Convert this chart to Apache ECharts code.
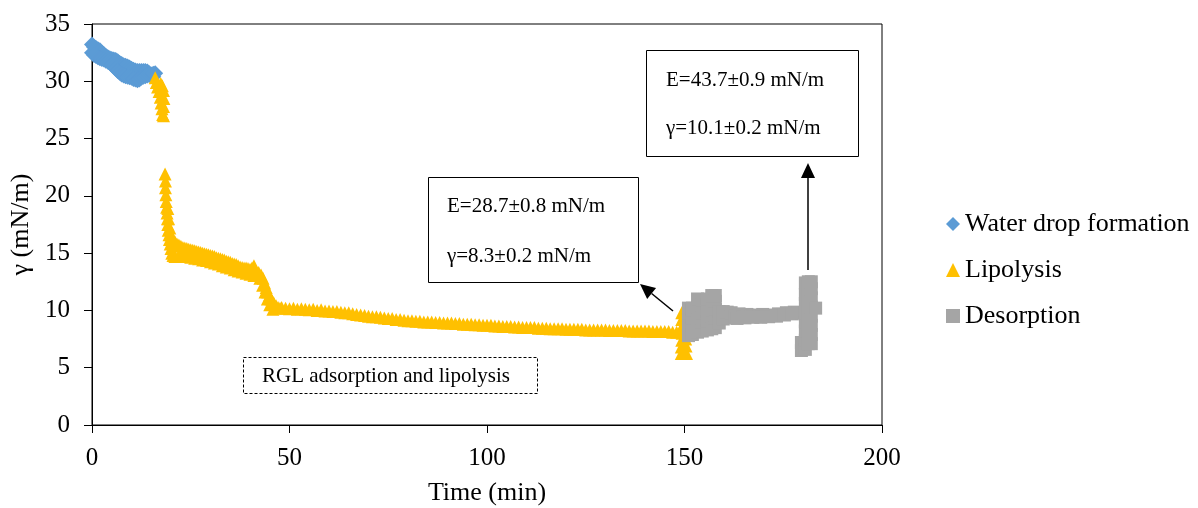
<!DOCTYPE html>
<html>
<head>
<meta charset="utf-8">
<script src="https://cdn.jsdelivr.net/npm/echarts@6/dist/echarts.min.js"></script>
<style>
  html, body { margin: 0; padding: 0; background: #fff; }
  #chart { width: 1198px; height: 508px; }
</style>
</head>
<body>
<div id="chart"></div>
<script>
// [time (min), surface tension (mN/m)]
// upper and lower edge of the band are both listed
var waterDrop = [
  [0, 33.2], [0.5, 33.0], [1, 32.9], [1.5, 32.8], [2, 32.7], [2.5, 32.5], [3, 32.35], [3.5, 32.2],
  [4, 32.1], [4.5, 32.0], [5, 31.95], [5.5, 31.9], [6, 31.85], [6.5, 31.75], [7, 31.6], [7.5, 31.5],
  [8, 31.4], [8.5, 31.35], [9, 31.3], [9.5, 31.2], [10, 31.1], [10.5, 31.0], [11, 30.95], [11.5, 30.9],
  [12, 30.9], [12.5, 30.9], [13, 30.9], [13.5, 30.9], [14, 30.85], [14.5, 30.7], [15, 30.5], [15.5, 30.4],
  [16, 30.7],
  [0, 32.5], [0.5, 32.3], [1, 32.2], [1.5, 32.1], [2, 32.0], [2.5, 31.95], [3, 31.9], [3.5, 31.8],
  [4, 31.7], [4.5, 31.6], [5, 31.45], [5.5, 31.3], [6, 31.1], [6.5, 30.9], [7, 30.75], [7.5, 30.6],
  [8, 30.5], [8.5, 30.45], [9, 30.4], [9.5, 30.35], [10, 30.3], [10.5, 30.2], [11, 30.15], [11.5, 30.1],
  [12, 30.15], [12.5, 30.3], [13, 30.4], [13.5, 30.45], [14, 30.5], [14.5, 30.55], [15, 30.6], [15.5, 30.65]
];

var lipolysis = [
  [16.0, 30.3], [16.3, 29.9], [16.6, 29.5], [17.0, 29.1], [17.3, 28.6], [17.5, 28.1], [17.7, 27.6],
  [17.9, 27.1], [18.1, 27.0], [18.1, 27.8], [18.2, 28.5], [18.1, 29.2], [17.8, 29.6], [17.4, 29.8],
  [18.5, 21.9], [18.6, 21.3], [18.6, 20.7], [18.7, 20.1], [18.8, 19.5], [18.9, 19.0], [19.0, 18.5],
  [19.1, 18.0], [19.2, 17.5], [19.3, 17.0], [19.5, 16.6], [19.6, 16.2], [19.8, 15.8], [20.0, 15.4],
  [20.2, 15.0], [19.2, 18.9], [19.4, 18.0], [19.7, 17.2], [20.0, 16.6], [20.3, 16.2],
  // upper edge 20-41 min
  [20.5, 16.2], [21, 16.0], [21.5, 15.8], [22, 15.7], [22.5, 15.6], [23, 15.5], [23.5, 15.45], [24, 15.4],
  [24.5, 15.35], [25, 15.3], [25.5, 15.25], [26, 15.2], [26.5, 15.15], [27, 15.1], [27.5, 15.05], [28, 15.0],
  [28.5, 14.95], [29, 14.9], [29.5, 14.85], [30, 14.8], [30.5, 14.75], [31, 14.7], [31.5, 14.6], [32, 14.55],
  [32.5, 14.5], [33, 14.45], [33.5, 14.4], [34, 14.3], [34.5, 14.25], [35, 14.2], [35.5, 14.1], [36, 14.05],
  [36.5, 14.0], [37, 13.9], [37.5, 13.8], [38, 13.75], [38.5, 13.7], [39, 13.7], [39.5, 13.65], [40, 13.6],
  [40.5, 13.7], [41, 13.9],
  // lower edge 20-41 min
  [20.5, 14.8], [21, 14.7], [22, 14.7], [23, 14.7], [24, 14.7], [25, 14.65], [26, 14.55], [27, 14.5],
  [28, 14.4], [29, 14.35], [30, 14.25], [31, 14.15], [32, 14.05], [33, 13.9], [34, 13.8], [35, 13.7],
  [36, 13.55], [37, 13.45], [38, 13.35], [39, 13.25], [40, 13.15], [41, 13.05],
  [41.5, 13.4], [42.2, 13.3], [42.8, 13.1], [43.3, 12.8], [43.7, 12.4], [44.1, 12.0], [44.5, 11.6], [44.9, 11.3],
  [45.3, 11.0], [45.7, 10.8], [46.1, 10.6], [46.6, 10.4], [47.1, 10.25], [47.6, 10.2],
  [42.5, 12.8], [43.2, 12.2], [43.8, 11.6], [44.4, 11.0], [45.0, 10.5], [45.8, 10.1],
  [48, 10.25], [49, 10.2], [50, 10.15], [51, 10.2], [52, 10.1], [53, 10.15], [54, 10.1], [55, 10.05],
  [56, 10.1], [57, 10.0], [58, 10.05], [59, 9.95], [60, 9.95], [61, 9.9], [62, 9.9], [63, 9.85],
  [64, 9.8], [65, 9.8], [66, 9.7], [67, 9.65], [68, 9.6], [69, 9.55], [70, 9.5], [71, 9.45],
  [72, 9.45], [73, 9.4], [74, 9.35], [75, 9.3], [76, 9.3], [77, 9.2], [78, 9.2], [79, 9.15],
  [80, 9.1], [81, 9.1], [82, 9.05], [83, 9.05], [84, 9.0], [85, 9.0], [86, 9.0], [87, 8.95],
  [88, 8.95], [89, 8.9], [90, 8.9], [91, 8.9], [92, 8.85], [93, 8.85], [94, 8.8], [95, 8.8],
  [96, 8.8], [97, 8.75], [98, 8.75], [99, 8.7], [100, 8.7], [101, 8.7], [102, 8.65], [103, 8.65],
  [104, 8.6], [105, 8.6], [106, 8.6], [107, 8.55], [108, 8.55], [109, 8.5], [110, 8.5], [111, 8.5],
  [112, 8.5], [113, 8.45], [114, 8.45], [115, 8.45], [116, 8.4], [117, 8.4], [118, 8.4], [119, 8.4],
  [120, 8.35], [121, 8.35], [122, 8.35], [123, 8.35], [124, 8.35], [125, 8.3], [126, 8.3], [127, 8.3],
  [128, 8.3], [129, 8.3], [130, 8.3], [131, 8.25], [132, 8.25], [133, 8.25], [134, 8.25], [135, 8.25],
  [136, 8.2], [137, 8.2], [138, 8.2], [139, 8.2], [140, 8.2], [141, 8.2], [142, 8.15], [143, 8.15],
  [144, 8.15], [145, 8.15], [146, 8.15], [147, 8.1], [148, 8.1],
  [149.3, 9.8], [149.3, 9.2], [149.4, 8.6], [149.4, 8.0], [149.3, 7.4], [149.2, 6.8], [149.2, 6.25],
  [150.5, 6.25], [150.4, 6.9], [150.3, 7.5]
];

var desorption = [
  [151.0, 7.8], [151.0, 8.5], [151.0, 9.2], [151.0, 9.8], [151.0, 10.2],
  [152.0, 7.9], [152.0, 8.6], [152.0, 9.3], [152.0, 10.0], [152.0, 10.2],
  [153.3, 8.1], [153.3, 8.8], [153.3, 9.6], [153.3, 10.3], [153.3, 11.0],
  [154.5, 8.2], [154.5, 9.0], [154.5, 9.8], [154.5, 10.5], [154.5, 10.9],
  [155.8, 8.3], [155.8, 9.1], [155.8, 9.9], [155.8, 10.6], [155.8, 11.0],
  [156.9, 8.4], [156.9, 9.2], [156.9, 10.0], [156.9, 10.7], [156.9, 11.3],
  [157.8, 8.5], [157.8, 9.3], [157.8, 10.1], [157.8, 10.8], [157.8, 11.3],
  [158.8, 8.9], [158.8, 9.9], [159.8, 9.25], [159.8, 9.9], [160.8, 9.35], [160.8, 9.85],
  [161.8, 9.4], [161.8, 9.8], [162.8, 9.5], [163.8, 9.7], [164.8, 9.45], [165.8, 9.65], [166.8, 9.5],
  [167.8, 9.6], [168.8, 9.5], [169.8, 9.65], [170.8, 9.5], [171.8, 9.6], [172.8, 9.55], [173.8, 9.7],
  [174.8, 9.65], [175.8, 9.8], [176.8, 9.75], [177.8, 9.85], [178.8, 9.8],
  [163.3, 9.3], [165.3, 9.35], [167.3, 9.4], [169.3, 9.4], [171.3, 9.45], [173.3, 9.5], [175.3, 9.6], [177.3, 9.7],
  [179.6, 6.5], [179.6, 7.2], [179.6, 9.8],
  [180.6, 6.6], [180.6, 7.4], [180.6, 8.2], [180.6, 9.0], [180.6, 9.8], [180.6, 10.6], [180.6, 11.4], [180.6, 12.4],
  [181.35, 7.1], [181.35, 7.9], [181.35, 8.7], [181.35, 9.5], [181.35, 10.3], [181.35, 11.1], [181.35, 11.9], [181.35, 12.5],
  [182.1, 7.1], [182.1, 7.9], [182.1, 8.7], [182.1, 9.5], [182.1, 10.3], [182.1, 11.1], [182.1, 11.9], [182.1, 12.5],
  [183.2, 10.2]
];

var seriesNames = ['Water drop formation', 'Lipolysis', 'Desorption'];
var seriesColors = ['#5B9BD5', '#FFC000', '#A5A5A5'];

var serif = '"Liberation Serif", "Times New Roman", serif';

function arrow(x1, y1, x2, y2) {
  var dx = x2 - x1, dy = y2 - y1;
  var len = Math.sqrt(dx * dx + dy * dy);
  var ux = dx / len, uy = dy / len;
  var hl = 15, hw = 7;
  var bx = x2 - ux * hl, by = y2 - uy * hl;
  return [{
    type: 'line',
    z: 100,
    shape: { x1: x1, y1: y1, x2: bx, y2: by },
    style: { stroke: '#000', lineWidth: 1.5 }
  }, {
    type: 'polygon',
    z: 100,
    shape: { points: [[x2, y2], [bx - uy * hw, by + ux * hw], [bx + uy * hw, by - ux * hw]] },
    style: { fill: '#000' }
  }];
}

function textBox(x, y, w, h, lines, dashed) {
  var els = [{
    type: 'rect',
    z: 100,
    shape: { x: x + 0.5, y: y + 0.5, width: w, height: h },
    style: { fill: '#fff', stroke: '#000', lineWidth: 1, lineDash: dashed ? [3, 2] : null }
  }];
  lines.forEach(function (l) {
    els.push({
      type: 'text',
      z: 101,
      x: l[1],
      y: l[2],
      style: { text: l[0], font: '21px ' + serif, fill: '#000', verticalAlign: 'middle' }
    });
  });
  return els;
}

var chart = echarts.init(document.getElementById('chart'));

var graphics = []
  .concat(textBox(428, 177, 210, 105, [['E=28.7\u00b10.8 mN/m', 447, 206], ['\u03b3=8.3\u00b10.2 mN/m', 447, 256]]))
  .concat(textBox(646, 50, 212, 106, [['E=43.7\u00b10.9 mN/m', 666, 80], ['\u03b3=10.1\u00b10.2 mN/m', 666, 128]]))
  .concat(textBox(243, 357, 294, 36, [['RGL adsorption and lipolysis', 262, 376]], true))
  .concat(arrow(673, 311, 640, 284))
  .concat(arrow(808, 270, 808, 163));

chart.setOption({
  animation: false,
  grid: {
    left: 92,
    right: 316,
    top: 24,
    bottom: 83,
    outerBoundsMode: 'none',
    containLabel: false,
    show: true,
    borderColor: '#000',
    borderWidth: 1
  },
  legend: {
    orient: 'vertical',
    left: 941,
    top: 206,
    itemGap: 20,
    itemWidth: 14,
    itemHeight: 14,
    textStyle: { fontFamily: serif, fontSize: 26, color: '#000', lineHeight: 25 },
    data: [
      { name: seriesNames[0], icon: 'diamond' },
      { name: seriesNames[1], icon: 'triangle' },
      { name: seriesNames[2], icon: 'rect' }
    ]
  },
  xAxis: {
    type: 'value',
    min: 0,
    max: 200,
    interval: 50,
    name: 'Time (min)',
    nameLocation: 'middle',
    nameGap: 55,
    nameTextStyle: { fontFamily: serif, fontSize: 26, color: '#000' },
    axisLine: { lineStyle: { color: '#000', width: 1 } },
    axisTick: { inside: false, length: 8, lineStyle: { color: '#000' } },
    axisLabel: { fontFamily: serif, fontSize: 25, color: '#000', margin: 21 },
    splitLine: { show: false }
  },
  yAxis: {
    type: 'value',
    min: 0,
    max: 35,
    interval: 5,
    name: '\u03b3 (mN/m)',
    nameLocation: 'middle',
    nameGap: 50,
    nameTextStyle: { fontFamily: serif, fontSize: 26, color: '#000' },
    axisLine: { show: true, lineStyle: { color: '#000', width: 1 } },
    axisTick: { show: true, inside: false, length: 8, lineStyle: { color: '#000' } },
    axisLabel: { fontFamily: serif, fontSize: 25, color: '#000', margin: 22 },
    splitLine: { show: false }
  },
  series: [{
    name: seriesNames[0],
    type: 'scatter',
    symbol: 'diamond',
    symbolSize: 16,
    itemStyle: { color: seriesColors[0], opacity: 1 },
    data: waterDrop
  }, {
    name: seriesNames[1],
    type: 'scatter',
    symbol: 'triangle',
    symbolSize: 13,
    itemStyle: { color: seriesColors[1], opacity: 1 },
    data: lipolysis
  }, {
    name: seriesNames[2],
    type: 'scatter',
    symbol: 'rect',
    symbolSize: 13,
    itemStyle: { color: seriesColors[2], opacity: 1 },
    data: desorption
  }],
  graphic: graphics
});
</script>
</body>
</html>
